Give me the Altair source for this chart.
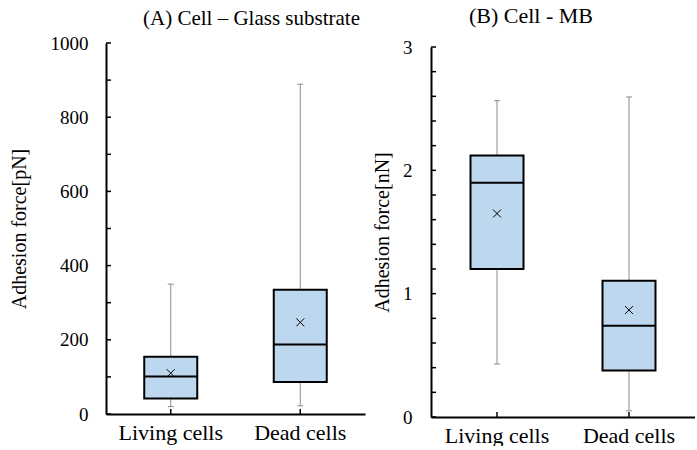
import altair as alt
import pandas as pd

categories = ["Living cells", "Dead cells"]

# Panel A: Cell - Glass substrate (pN)
a_min = [20, 22]
a_q1 = [42, 86]
a_med = [101, 187]
a_q3 = [154, 335]
a_max = [350, 889]
a_mean = [110, 247]
a_label_values = [0, 200, 400, 600, 800, 1000]
a_tick_values = [0, 100, 200, 300, 400, 500, 600, 700, 800, 900, 1000]

# Panel B: Cell - MB (nN)
b_min = [0.43, 0.05]
b_q1 = [1.20, 0.377]
b_med = [1.90, 0.74]
b_q3 = [2.12, 1.105]
b_max = [2.565, 2.595]
b_mean = [1.65, 0.867]
b_label_values = [0, 1, 2, 3]
b_tick_values = [0, 0.2, 0.4, 0.6, 0.8, 1.0, 1.2, 1.4, 1.6, 1.8, 2.0, 2.2, 2.4, 2.6, 2.8, 3.0]

FONT = "Liberation Serif"
BOX_FILL = "#BDD7EE"
WHISKER = "#8c8c8c"
X_PATH = "M-1,-1L1,1M-1,1L1,-1"


def panel(mins, q1s, meds, q3s, maxs, means, label_values, tick_values, domain,
          title_text, title_size, title_dx, title_offset, width, height, top_gap,
          ytitle, label_pad, ytitle_x):
    df = pd.DataFrame({"cat": categories, "mn": mins, "q1": q1s, "med": meds,
                       "q3": q3s, "mx": maxs, "mean": means})
    ticks_df = pd.DataFrame({"v": tick_values})
    yscale = alt.Scale(domain=domain, nice=False, zero=False,
                       range=[height, top_gap])
    yaxis = alt.Axis(values=label_values, format="d", title=ytitle, titleFont=FONT,
                     titleFontSize=20, titleFontWeight="normal", titleColor="black",
                     titleX=ytitle_x, titleBaseline="middle", labelFont=FONT,
                     labelFontSize=19, labelColor="black", domainColor="black",
                     domainWidth=2, tickSize=0, labelPadding=label_pad, grid=False)
    xenc = alt.X("cat:N", sort=categories,
                 scale=alt.Scale(paddingInner=0, paddingOuter=0),
                 axis=alt.Axis(title=None, labelAngle=0, labelFont=FONT, labelFontSize=22,
                               labelColor="black", domainColor="black", domainWidth=2,
                               tickSize=0, labelPadding=8))
    base = alt.Chart(df).encode(x=xenc)

    whisk = base.mark_rule(color=WHISKER, strokeWidth=1).encode(
        y=alt.Y("mn:Q", scale=yscale, axis=yaxis), y2="mx:Q")
    caps_lo = base.mark_tick(color=WHISKER, size=6, thickness=1, opacity=1).encode(
        y=alt.Y("mn:Q", scale=yscale, axis=yaxis))
    caps_hi = base.mark_tick(color=WHISKER, size=6, thickness=1, opacity=1).encode(
        y=alt.Y("mx:Q", scale=yscale, axis=yaxis))
    box = base.mark_bar(size=53, fill=BOX_FILL, stroke="black", strokeWidth=2).encode(
        y=alt.Y("q1:Q", scale=yscale, axis=yaxis), y2="q3:Q")
    med = base.mark_tick(size=53, thickness=2, color="black", opacity=1).encode(
        y=alt.Y("med:Q", scale=yscale, axis=yaxis))
    mean = base.mark_point(shape=X_PATH, size=64, filled=False, stroke="black",
                           strokeWidth=1, opacity=1).encode(
        y=alt.Y("mean:Q", scale=yscale, axis=yaxis))
    yticks = alt.Chart(ticks_df).mark_rule(color="black", strokeWidth=1.5).encode(
        y=alt.Y("v:Q", scale=yscale, axis=yaxis),
        x=alt.value(0), x2=alt.value(5))
    xticks = base.mark_rule(color="black", strokeWidth=1.5).encode(
        y=alt.value(height), y2=alt.value(height - 5))

    return alt.layer(whisk, caps_lo, caps_hi, box, med, mean, yticks, xticks).properties(
        width=width, height=height,
        title=alt.TitleParams(title_text, font=FONT, fontSize=title_size,
                              fontWeight="normal", color="black", anchor="middle",
                              dx=title_dx, offset=title_offset))


pa = panel(a_min, a_q1, a_med, a_q3, a_max, a_mean, a_label_values, a_tick_values,
           [0, 1000], "(A) Cell \u2013 Glass substrate", 21, 16, 5, 259, 371, 0,
           "Adhesion force[pN]", 18, -87)
pb = panel(b_min, b_q1, b_med, b_q3, b_max, b_mean, b_label_values, b_tick_values,
           [0, 3], "(B) Cell - MB", 22, -32, 10, 264, 374, 4,
           "Adhesion force[nN]", 19, -49)

chart = alt.hconcat(pa, pb, spacing=7).properties(
    padding={"left": 9, "top": 5, "right": 0, "bottom": 0},
    background="white"
).configure_view(stroke=None)

chart.save("out.html", embed_options={"renderer": "svg", "actions": False})
